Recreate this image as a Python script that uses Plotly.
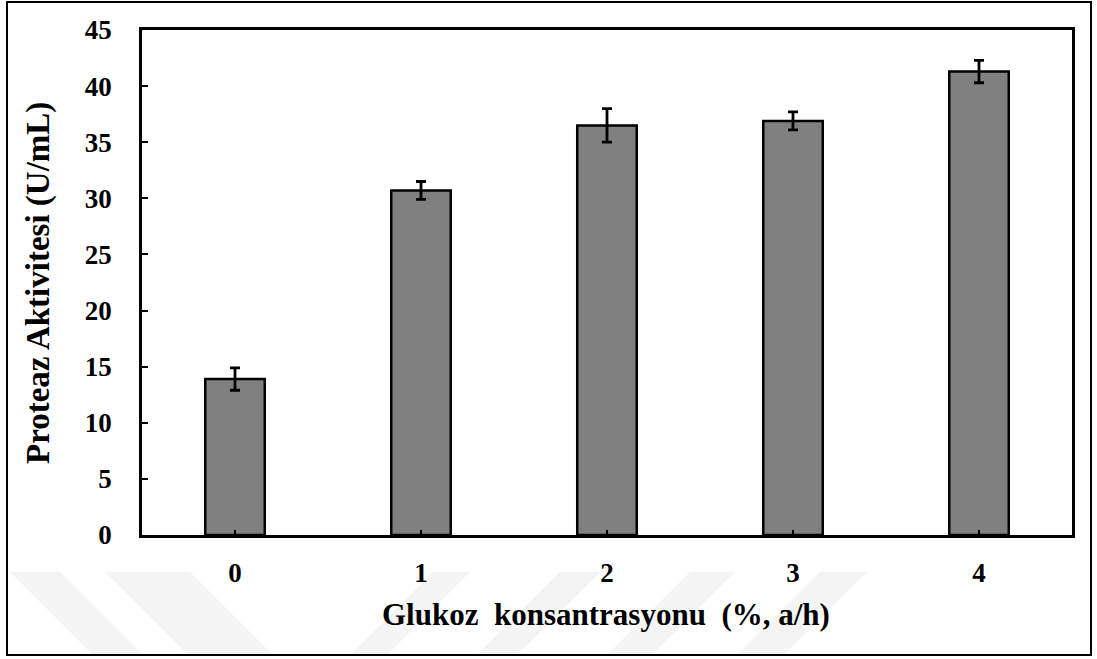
import plotly.graph_objects as go

categories = ["0", "1", "2", "3", "4"]
activity = [13.9, 30.7, 36.5, 36.9, 41.3]
errors = [1.0, 0.8, 1.5, 0.8, 1.0]
y_ticks = [0, 5, 10, 15, 20, 25, 30, 35, 40, 45]

W, H = 1097, 659
L, R, T, B = 142, 1072, 30, 535

def px(x):
    return (x - L) / (R - L)

def py(y):
    return (B - y) / (B - T)

fig = go.Figure()
fig.add_trace(go.Bar(
    x=categories, y=activity,
    width=0.32,
    marker=dict(color="#808080", line=dict(color="black", width=2.5)),
    error_y=dict(type="data", array=errors, visible=True,
                 color="black", thickness=2.8, width=5),
))

shapes = []
# faint watermark stripes
stripes_back = [(10, 60), (105, 190)]
for a, b in stripes_back:
    h = 655 - 572
    shapes.append(dict(type="path", xref="paper", yref="paper", layer="below",
                       path=f"M {px(a)} {py(572)} L {px(b)} {py(572)} L {px(b+h)} {py(655)} L {px(a+h)} {py(655)} Z",
                       fillcolor="#f4f4f4", line=dict(width=0)))
stripes_fwd = [(433, 470), (690, 735), (820, 867), (560, 600)]
for a, b in stripes_fwd:
    h = 655 - 572
    shapes.append(dict(type="path", xref="paper", yref="paper", layer="below",
                       path=f"M {px(a)} {py(572)} L {px(b)} {py(572)} L {px(b-h)} {py(655)} L {px(a-h)} {py(655)} Z",
                       fillcolor="#f4f4f4", line=dict(width=0)))
# outer border
shapes.append(dict(type="rect", xref="paper", yref="paper",
                   x0=px(7), x1=px(1091), y0=py(655), y1=py(2),
                   line=dict(color="black", width=2), fillcolor="rgba(0,0,0,0)"))

title_font = dict(size=31, family="Liberation Serif, Times New Roman, serif", weight="bold", color="black")
ytitle_font = dict(size=33, family="Liberation Serif, Times New Roman, serif", weight="bold", color="black")
tick_font = dict(size=27, family="Liberation Serif, Times New Roman, serif", weight="bold", color="black")

fig.update_layout(
    width=W, height=H,
    margin=dict(l=L, r=W - R, t=T, b=H - B),
    paper_bgcolor="white", plot_bgcolor="white",
    showlegend=False,
    shapes=shapes,
    font=dict(family="Liberation Serif", color="black"),
    annotations=[
        dict(text="Glukoz  konsantrasyonu  (%, a/h)", xref="paper", yref="paper",
             x=px(606), y=py(614), showarrow=False, font=title_font,
             xanchor="center", yanchor="middle"),
        dict(text="Proteaz Aktivitesi (U/mL)", xref="paper", yref="paper",
             x=px(38), y=py(283), showarrow=False, textangle=-90,
             font=ytitle_font,
             xanchor="center", yanchor="middle"),
    ],
)
fig.update_xaxes(
    type="category", range=[-0.5, 4.5],
    showline=True, linecolor="black", linewidth=2.5, mirror=True,
    ticks="inside", ticklen=5, tickwidth=2, tickcolor="black",
    tickfont=tick_font,
    ticklabelstandoff=12,
    showgrid=False, zeroline=False,
)
fig.update_yaxes(
    range=[0, 45], tickvals=y_ticks,
    showline=True, linecolor="black", linewidth=2.5, mirror=True,
    ticks="inside", ticklen=6, tickwidth=2, tickcolor="black",
    tickfont=tick_font,
    ticklabelstandoff=22,
    showgrid=False, zeroline=False,
)

fig.write_html("out.html")
